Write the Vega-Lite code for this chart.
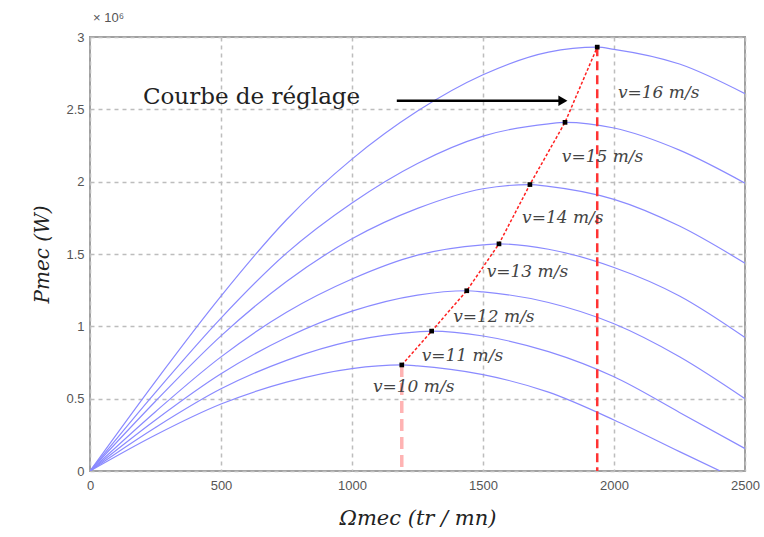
{
  "$schema": "https://vega.github.io/schema/vega-lite/v6.json",
  "width": 655,
  "height": 434,
  "autosize": {"type": "none"},
  "padding": {"left": 90, "top": 37, "right": 19, "bottom": 66},
  "background": "white",
  "title": {"text": "× 10⁶", "anchor": "start", "frame": "group", "fontSize": 13, "fontWeight": "normal", "font": "Liberation Sans", "color": "#555555", "offset": 6, "dx": 3},
  "config": {"view": {"stroke": "#a0a0a0", "strokeWidth": 2}},
  "datasets": {
    "curves": [
      {"v": 10, "w": 0, "p": 0}, {"v": 10, "w": 250, "p": 0.249}, {"v": 10, "w": 500, "p": 0.463}, {"v": 10, "w": 750, "p": 0.614}, {"v": 10, "w": 1000, "p": 0.708}, {"v": 10, "w": 1190, "p": 0.733}, {"v": 10, "w": 1250, "p": 0.727}, {"v": 10, "w": 1500, "p": 0.666}, {"v": 10, "w": 1750, "p": 0.545}, {"v": 10, "w": 2000, "p": 0.353}, {"v": 10, "w": 2250, "p": 0.134}, {"v": 10, "w": 2405, "p": 0},
      {"v": 11, "w": 0, "p": 0}, {"v": 11, "w": 250, "p": 0.301}, {"v": 11, "w": 500, "p": 0.568}, {"v": 11, "w": 750, "p": 0.765}, {"v": 11, "w": 1000, "p": 0.899}, {"v": 11, "w": 1250, "p": 0.962}, {"v": 11, "w": 1304, "p": 0.967}, {"v": 11, "w": 1500, "p": 0.933}, {"v": 11, "w": 1750, "p": 0.825}, {"v": 11, "w": 2000, "p": 0.651}, {"v": 11, "w": 2250, "p": 0.405}, {"v": 11, "w": 2500, "p": 0.155},
      {"v": 12, "w": 0, "p": 0}, {"v": 12, "w": 250, "p": 0.353}, {"v": 12, "w": 500, "p": 0.672}, {"v": 12, "w": 750, "p": 0.923}, {"v": 12, "w": 1000, "p": 1.105}, {"v": 12, "w": 1250, "p": 1.216}, {"v": 12, "w": 1438, "p": 1.246}, {"v": 12, "w": 1500, "p": 1.238}, {"v": 12, "w": 1750, "p": 1.165}, {"v": 12, "w": 2000, "p": 1.018}, {"v": 12, "w": 2250, "p": 0.79}, {"v": 12, "w": 2500, "p": 0.5},
      {"v": 13, "w": 0, "p": 0}, {"v": 13, "w": 250, "p": 0.41}, {"v": 13, "w": 500, "p": 0.789}, {"v": 13, "w": 750, "p": 1.097}, {"v": 13, "w": 1000, "p": 1.327}, {"v": 13, "w": 1250, "p": 1.492}, {"v": 13, "w": 1500, "p": 1.563}, {"v": 13, "w": 1561, "p": 1.57}, {"v": 13, "w": 1750, "p": 1.533}, {"v": 13, "w": 2000, "p": 1.407}, {"v": 13, "w": 2250, "p": 1.21}, {"v": 13, "w": 2500, "p": 0.923},
      {"v": 14, "w": 0, "p": 0}, {"v": 14, "w": 250, "p": 0.482}, {"v": 14, "w": 500, "p": 0.934}, {"v": 14, "w": 750, "p": 1.31}, {"v": 14, "w": 1000, "p": 1.605}, {"v": 14, "w": 1250, "p": 1.815}, {"v": 14, "w": 1500, "p": 1.951}, {"v": 14, "w": 1679, "p": 1.98}, {"v": 14, "w": 1750, "p": 1.968}, {"v": 14, "w": 2000, "p": 1.878}, {"v": 14, "w": 2250, "p": 1.693}, {"v": 14, "w": 2500, "p": 1.436},
      {"v": 15, "w": 0, "p": 0}, {"v": 15, "w": 250, "p": 0.544}, {"v": 15, "w": 500, "p": 1.057}, {"v": 15, "w": 750, "p": 1.506}, {"v": 15, "w": 1000, "p": 1.853}, {"v": 15, "w": 1250, "p": 2.126}, {"v": 15, "w": 1500, "p": 2.315}, {"v": 15, "w": 1750, "p": 2.4}, {"v": 15, "w": 1813, "p": 2.41}, {"v": 15, "w": 2000, "p": 2.371}, {"v": 15, "w": 2250, "p": 2.218}, {"v": 15, "w": 2500, "p": 1.99},
      {"v": 16, "w": 0, "p": 0}, {"v": 16, "w": 250, "p": 0.62}, {"v": 16, "w": 500, "p": 1.209}, {"v": 16, "w": 750, "p": 1.737}, {"v": 16, "w": 1000, "p": 2.156}, {"v": 16, "w": 1250, "p": 2.488}, {"v": 16, "w": 1500, "p": 2.739}, {"v": 16, "w": 1750, "p": 2.896}, {"v": 16, "w": 1936, "p": 2.93}, {"v": 16, "w": 2000, "p": 2.915}, {"v": 16, "w": 2250, "p": 2.813}, {"v": 16, "w": 2500, "p": 2.608}
    ],
    "peaks": [
      {"w": 1190, "p": 0.733}, {"w": 1304, "p": 0.967}, {"w": 1438, "p": 1.246}, {"w": 1561, "p": 1.57}, {"w": 1679, "p": 1.98}, {"w": 1813, "p": 2.41}, {"w": 1936, "p": 2.93}
    ],
    "labels": [
      {"w": 2015, "p": 2.61, "t": "v=16 m/s"}, {"w": 1801, "p": 2.17, "t": "v=15 m/s"}, {"w": 1649, "p": 1.75, "t": "v=14 m/s"}, {"w": 1514, "p": 1.377, "t": "v=13 m/s"}, {"w": 1386, "p": 1.066, "t": "v=12 m/s"}, {"w": 1266, "p": 0.795, "t": "v=11 m/s"}, {"w": 1080, "p": 0.583, "t": "v=10 m/s"}
    ]
  },
  "encoding": {
    "x": {"field": "w", "type": "quantitative", "scale": {"domain": [0, 2500], "nice": false, "zero": false},
      "axis": {"title": "Ωmec (tr / mn)", "values": [0, 500, 1000, 1500, 2000, 2500], "format": "d", "grid": true, "gridDash": [4, 4], "gridColor": "#bdbdbd", "gridWidth": 1.5, "domain": false, "ticks": false, "labelPadding": 8, "labelFont": "Liberation Sans", "labelFontSize": 13, "labelColor": "#555555", "labelFlush": false, "titleFont": "DejaVu Serif", "titleFontStyle": "italic", "titleFontWeight": "normal", "titleFontSize": 21, "titleColor": "#222222", "titlePadding": 15}},
    "y": {"field": "p", "type": "quantitative", "scale": {"domain": [0, 3], "nice": false},
      "axis": {"title": "Pmec (W)", "values": [0, 0.5, 1, 1.5, 2, 2.5, 3], "format": "~g", "grid": true, "gridDash": [4, 4], "gridColor": "#bdbdbd", "gridWidth": 1.5, "domain": false, "ticks": false, "labelPadding": 6, "labelFont": "Liberation Sans", "labelFontSize": 13, "labelColor": "#555555", "labelFlush": false, "titleFont": "DejaVu Serif", "titleFontStyle": "italic", "titleFontWeight": "normal", "titleFontSize": 20, "titleColor": "#222222", "titlePadding": 13}}
  },
  "layer": [
    {"data": {"name": "curves"}, "mark": {"type": "line", "interpolate": "monotone", "color": "#8a8aff", "strokeWidth": 1.2, "clip": true}, "encoding": {"detail": {"field": "v", "type": "nominal"}}},
    {"data": {"values": [{"w": 1190, "p": 0.733, "p0": 0}]}, "mark": {"type": "rule", "color": "#ffb3b3", "strokeWidth": 3.5, "strokeDash": [12, 6]}, "encoding": {"y2": {"field": "p0"}}},
    {"data": {"values": [{"w": 1936, "p": 2.93, "p0": 0}]}, "mark": {"type": "rule", "color": "#ff3333", "strokeWidth": 2.5, "strokeDash": [9, 5]}, "encoding": {"y2": {"field": "p0"}}},
    {"data": {"name": "peaks"}, "mark": {"type": "line", "color": "#ff2020", "strokeWidth": 1.5, "strokeDash": [3, 2]}, "encoding": {"order": {"field": "w", "type": "quantitative"}}},
    {"data": {"name": "peaks"}, "mark": {"type": "point", "shape": "square", "filled": true, "color": "#000000", "size": 22, "opacity": 1}, "encoding": {}},
    {"data": {"name": "labels"}, "mark": {"type": "text", "align": "left", "baseline": "middle", "font": "DejaVu Serif", "fontStyle": "italic", "fontSize": 17, "color": "#444444"}, "encoding": {"text": {"field": "t"}}},
    {"data": {"values": [{"w": 1171, "w2": 1805, "p": 2.56}]}, "mark": {"type": "rule", "color": "#000000", "strokeWidth": 2.5}, "encoding": {"x2": {"field": "w2"}}},
    {"data": {"values": [{"w": 1805, "p": 2.56}]}, "mark": {"type": "point", "shape": "triangle-right", "filled": true, "color": "#000000", "size": 110, "opacity": 1}, "encoding": {}},
    {"data": {"values": [{"w": 202, "p": 2.585, "t": "Courbe de réglage"}]}, "mark": {"type": "text", "align": "left", "baseline": "middle", "font": "DejaVu Serif", "fontSize": 23, "color": "#222222"}, "encoding": {"text": {"field": "t"}}}
  ]
}
